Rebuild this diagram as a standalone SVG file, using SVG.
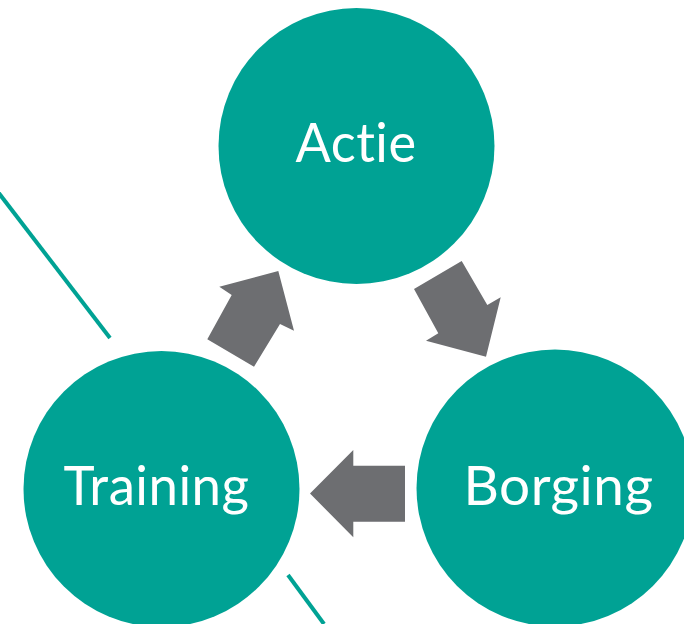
<svg xmlns="http://www.w3.org/2000/svg" width="684" height="624" viewBox="0 0 684 624">
<style>
.node circle{fill:#00A294}
.node text{font-family:Lato,"Open Sans","Noto Sans",sans-serif;font-size:54px;fill:#ffffff;text-anchor:middle;font-variant-ligatures:none;font-feature-settings:"liga" 0;letter-spacing:0.5px}
.arrow{fill:#6D6E71}
.deco{stroke:#00A294;stroke-width:4;fill:none}
</style>
<rect width="684" height="624" fill="#ffffff"/>
<g id="decor">
<line class="deco" x1="-2" y1="192" x2="110" y2="338"/>
<line class="deco" x1="288" y1="575" x2="324" y2="624"/>
</g>
<g id="node-actie" class="node">
<circle cx="356.5" cy="146" r="138"/>
<text x="356" y="162" textLength="121" lengthAdjust="spacingAndGlyphs">Actie</text>
</g>
<g id="node-training" class="node">
<circle cx="161.5" cy="489" r="138"/>
<text x="156.5" y="505" textLength="186" lengthAdjust="spacingAndGlyphs">Training</text>
</g>
<g id="node-borging" class="node">
<circle cx="555" cy="488" r="138.5"/>
<text x="558.5" y="505" textLength="190" lengthAdjust="spacingAndGlyphs">Borging</text>
</g>
<g id="connectors">
<polygon class="arrow" points="278.3,271 219.3,286.7 231.7,295 207.3,339.3 254,366.7 280,324 294,330.7"/>
<polygon class="arrow" points="461.7,261 414,289 438.3,333.3 426,340.7 486,356.7 500.7,297.3 487.3,305"/>
<polygon class="arrow" points="310,493.5 353.3,450 353.3,465.7 405,465.7 405,521.7 353.3,521.7 353.3,537.3"/>
</g>
</svg>
